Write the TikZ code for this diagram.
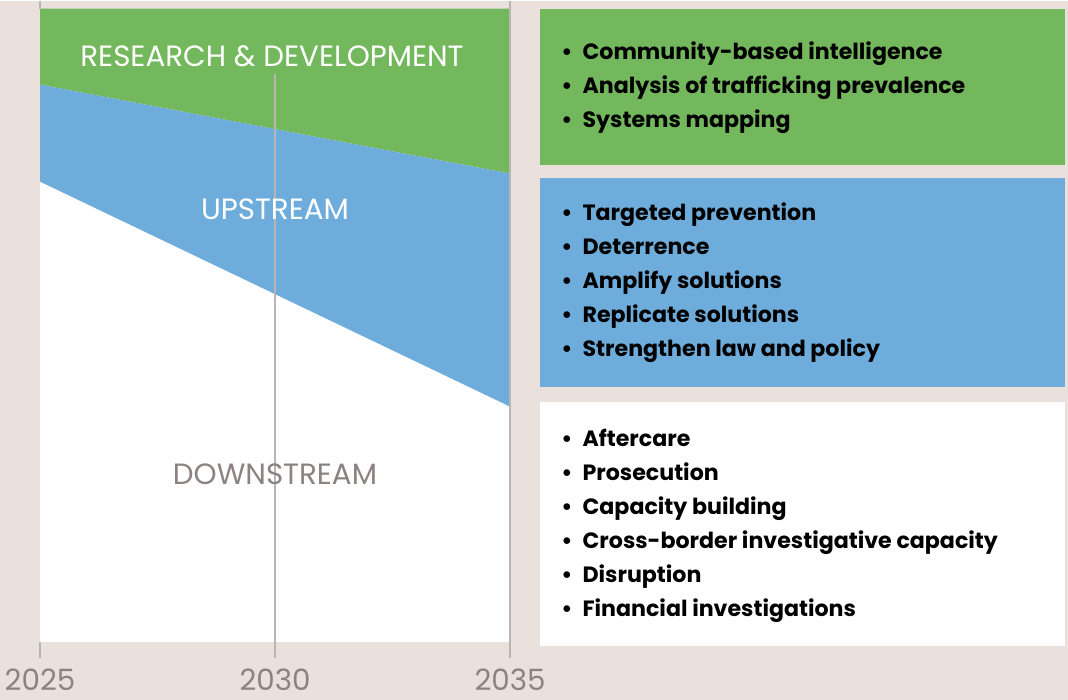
\documentclass[tikz,border=0pt]{standalone}
\usepackage{fontspec}
\setmainfont{Poppins}
\definecolor{bgbeige}{HTML}{EAE1DC}
\definecolor{rdgreen}{HTML}{74B85D}
\definecolor{upblue}{HTML}{6EADDB}
\definecolor{yeargray}{HTML}{8B8380}
\newcommand{\bul}{\makebox[16pt][l]{\textbullet}}
\tikzset{
  phase/.style={font=\fontsize{22}{24}\selectfont},
  listbox/.style={minimum width=393.75pt, inner sep=0pt, anchor=north west},
  items/.style={anchor=west, align=left, inner sep=0pt, font=\fontsize{16.6}{25.5}\bfseries\selectfont},
  year/.style={text=yeargray, font=\fontsize{22}{24}\selectfont},
  gridline/.style={draw=yeargray!60, line width=0.9pt}
}
\begin{document}
\begin{tikzpicture}[x=0.75pt, y=-0.75pt]
	\fill[bgbeige] (0,0) rectangle (1068,699);
	% chart
	\fill[white] (40,8) rectangle (510,641);
	\fill[rdgreen] (40,8) -- (510,8) -- (510,173) -- (40,84) -- cycle;
	\fill[upblue] (40,84) -- (510,173) -- (510,406) -- (40,181) -- cycle;
	\draw[gridline] (40,0) -- (40,8) (40,641) -- (40,657);
	\draw[gridline] (275,73) -- (275,657);
	\draw[gridline] (510,0) -- (510,657);
	\node[year] (y2025) at (40,679) {2025};
	\node[year] (y2030) at (275,679) {2030};
	\node[year] (y2035) at (510,679) {2035};
	\node[phase, text=white] (rd) at (272,56) {RESEARCH \& DEVELOPMENT};
	\node[phase, text=white] (up) at (275,209) {UPSTREAM};
	\node[phase, text=yeargray] (down) at (275,474) {DOWNSTREAM};
	% lists
	\node[listbox, fill=rdgreen, minimum height=117pt] (rdbox) at (540,8) {};
	\node[listbox, fill=upblue, minimum height=156.75pt] (upbox) at (540,177) {};
	\node[listbox, fill=white, minimum height=183pt] (downbox) at (540,401) {};
	\node[items] (rdlist) at (561,87) {\bul Community-based intelligence\\ \bul Analysis of trafficking prevalence\\ \bul Systems mapping};
	\node[items] (uplist) at (561,282) {\bul Targeted prevention\\ \bul Deterrence\\ \bul Amplify solutions\\ \bul Replicate solutions\\ \bul Strengthen law and policy};
	\node[items] (downlist) at (561,525) {\bul Aftercare\\ \bul Prosecution\\ \bul Capacity building\\ \bul Cross-border investigative capacity\\ \bul Disruption\\ \bul Financial investigations};
\end{tikzpicture}
\end{document}
